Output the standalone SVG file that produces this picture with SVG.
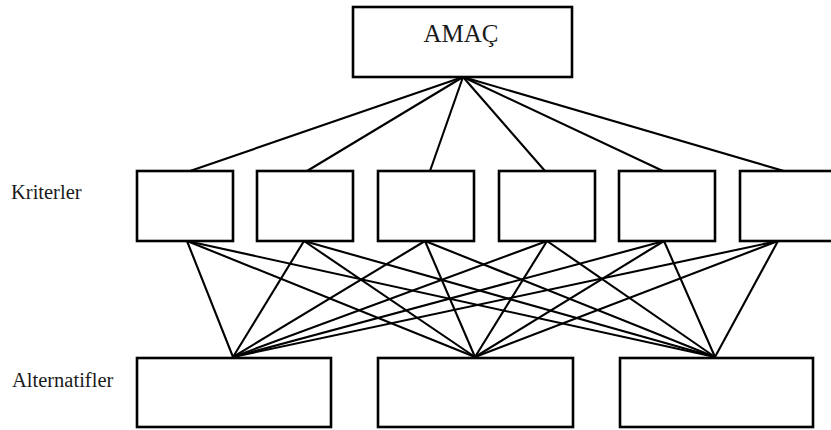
<svg xmlns="http://www.w3.org/2000/svg" width="831" height="430" viewBox="0 0 831 430">
<style>
.box{fill:#fff;stroke:#000;stroke-width:2.6}
.ln{stroke:#000;stroke-width:2.1;fill:none}
.lbl{font-family:"Liberation Serif","Times New Roman",serif;fill:#1a1a1a}
</style>
<rect width="831" height="430" fill="#fff"/>
<g id="connectors">
<line class="ln" x1="463" y1="77" x2="190" y2="171"/>
<line class="ln" x1="463" y1="77" x2="307" y2="171"/>
<line class="ln" x1="463" y1="77" x2="430" y2="171"/>
<line class="ln" x1="463" y1="77" x2="545" y2="171"/>
<line class="ln" x1="463" y1="77" x2="663" y2="171"/>
<line class="ln" x1="463" y1="77" x2="784" y2="171"/>
<g id="to-alt">
<line class="ln" x1="187" y1="241" x2="233" y2="357"/>
<line class="ln" x1="187" y1="241" x2="475" y2="357"/>
<line class="ln" x1="187" y1="241" x2="715" y2="357"/>
<line class="ln" x1="304" y1="241" x2="233" y2="357"/>
<line class="ln" x1="304" y1="241" x2="475" y2="357"/>
<line class="ln" x1="304" y1="241" x2="715" y2="357"/>
<line class="ln" x1="425" y1="241" x2="233" y2="357"/>
<line class="ln" x1="425" y1="241" x2="475" y2="357"/>
<line class="ln" x1="425" y1="241" x2="715" y2="357"/>
<line class="ln" x1="547" y1="241" x2="233" y2="357"/>
<line class="ln" x1="547" y1="241" x2="475" y2="357"/>
<line class="ln" x1="547" y1="241" x2="715" y2="357"/>
<line class="ln" x1="664" y1="241" x2="233" y2="357"/>
<line class="ln" x1="664" y1="241" x2="475" y2="357"/>
<line class="ln" x1="664" y1="241" x2="715" y2="357"/>
<line class="ln" x1="778" y1="241" x2="233" y2="357"/>
<line class="ln" x1="778" y1="241" x2="475" y2="357"/>
<line class="ln" x1="778" y1="241" x2="715" y2="357"/>
</g>
</g>
<g id="goal">
<rect class="box" x="353" y="7" width="219" height="70"/>
<text class="lbl" x="461" y="42" font-size="25" text-anchor="middle">AMAÇ</text>
</g>
<text class="lbl" x="11" y="199" font-size="20.5">Kriterler</text>
<text class="lbl" x="12" y="387" font-size="20.5">Alternatifler</text>
<g id="k1"><rect class="box" x="137" y="171" width="96" height="70"/></g>
<g id="k2"><rect class="box" x="257" y="171" width="96" height="70"/></g>
<g id="k3"><rect class="box" x="378" y="171" width="96" height="70"/></g>
<g id="k4"><rect class="box" x="499" y="171" width="96" height="70"/></g>
<g id="k5"><rect class="box" x="619" y="171" width="96" height="70"/></g>
<g id="k6"><rect class="box" x="740" y="171" width="96" height="70"/></g>
<g id="a1"><rect class="box" x="137" y="358" width="194" height="69"/></g>
<g id="a2"><rect class="box" x="378" y="358" width="195" height="69"/></g>
<g id="a3"><rect class="box" x="620" y="358" width="193" height="69"/></g>
</svg>
